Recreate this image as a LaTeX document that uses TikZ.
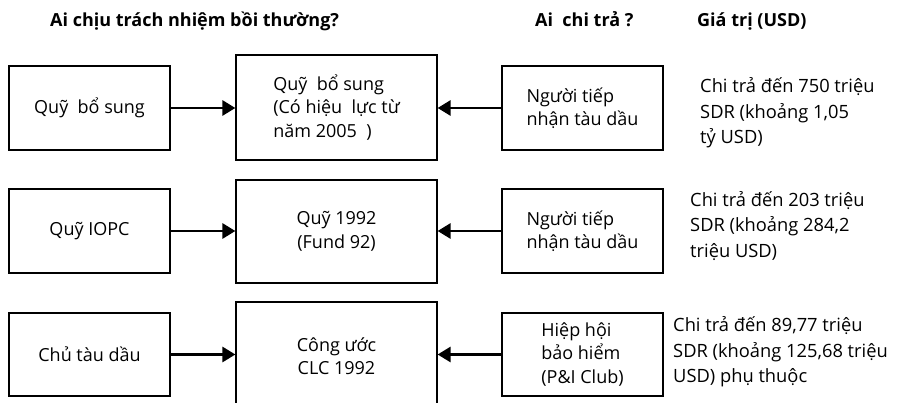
\documentclass[tikz,border=0pt]{standalone}
\usepackage{fontspec}
\setmainfont{Open Sans}
\usetikzlibrary{arrows.meta}
\begin{document}
\begin{tikzpicture}[x=1pt,y=-1pt,
 box/.style={draw, line width=1.2pt, minimum width=161pt, minimum height=84pt, inner sep=0pt, font=\fontsize{18}{23.5}\selectfont, align=left},
 mid/.style={box, minimum width=201pt},
 val/.style={anchor=west, align=left, inner sep=0pt, font=\fontsize{18.3}{25.5}\selectfont},
 hdr/.style={anchor=base west, inner sep=0pt, font=\bfseries\fontsize{18}{20}\selectfont},
 arr/.style={line width=2.8pt, -{Triangle[length=13pt,width=15pt]}}]
\useasboundingbox (0,0) rectangle (904,403);
\clip (0,0) rectangle (904,403);
% headers
\node[hdr] (h1) at (50,27) {Ai chịu trách nhiệm bồi thường?};
\node[hdr] (h2) at (535,27) {Ai\ \ chi trả ?};
\node[hdr] (h3) at (697,27) {Giá trị (USD)};
% row 1
\node[box] (l1) at (89.5,108) {Quỹ\ \ bổ sung};
\node[mid, minimum height=105pt] (m1) at (336.5,107.5) {Quỹ\ \ bổ sung\\(Có hiệu\ \ lực từ\\năm 2005\ \ )};
\node[box] (r1) at (582.5,108) {Người tiếp\\nhận tàu dầu};
\node[val] (v1) at (700,113) {Chi trả đến 750 triệu\\SDR (khoảng 1,05\\tỷ USD)};
% row 2
\node[box] (l2) at (89.5,231) {Quỹ IOPC};
\node[mid, minimum height=103pt, align=center] (m2) at (336.5,231.5) {Quỹ 1992\\(Fund 92)};
\node[box] (r2) at (582.5,231) {Người tiếp\\nhận tàu dầu};
\node[val] (v2) at (690,226) {Chi trả đến 203 triệu\\SDR (khoảng 284,2\\triệu USD)};
% row 3
\node[box, minimum height=83pt] (l3) at (89.5,354.5) {Chủ tàu dầu};
\node[mid, minimum height=108pt, align=center] (m3) at (336.5,356) {Công ước\\CLC 1992};
\node[box, minimum height=83pt] (r3) at (582.5,354.5) {Hiệp hội\\bảo hiểm\\(P\&I Club)};
\node[val] (v3) at (673,352) {Chi trả đến 89,77 triệu\\SDR (khoảng 125,68 triệu\\USD) phụ thuộc};
% arrows
\draw[arr] (l1.east) -- (l1.east -| m1.west);
\draw[arr] (r1.west) -- (r1.west -| m1.east);
\draw[arr] (l2.east) -- (l2.east -| m2.west);
\draw[arr] (r2.west) -- (r2.west -| m2.east);
\draw[arr] (l3.east) -- (l3.east -| m3.west);
\draw[arr] (r3.west) -- (r3.west -| m3.east);
\end{tikzpicture}
\end{document}
